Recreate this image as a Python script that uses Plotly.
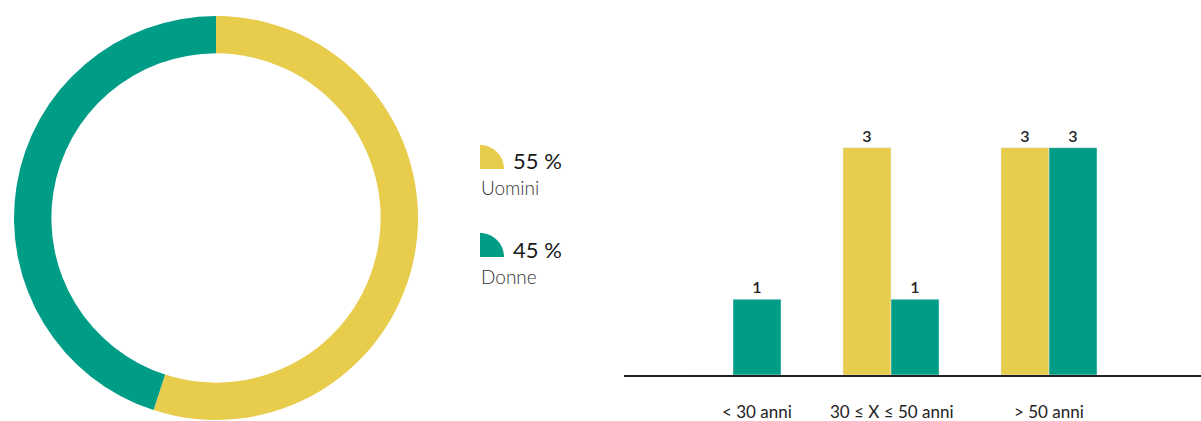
import plotly.graph_objects as go

# --- data ---
gender_labels = ["Uomini", "Donne"]
gender_values = [55, 45]
age_categories = ["< 30 anni", "30 ≤ X ≤ 50 anni", "> 50 anni"]
men_counts = [0, 3, 3]
women_counts = [1, 1, 3]

YELLOW = "#E8CC4C"
TEAL = "#009D86"
W, H = 1201, 421
FONT = "Lato"

fig = go.Figure()

# donut
fig.add_trace(go.Pie(
    labels=gender_labels, values=gender_values, sort=False, direction="clockwise",
    hole=0.815, marker=dict(colors=[YELLOW, TEAL], line=dict(width=0)),
    textinfo="none", hoverinfo="label+percent", showlegend=False,
    domain=dict(x=[14 / W, 418 / W], y=[1 - 420 / H, 1 - 16 / H]),
))

# bars
def lbl(vals):
    return [str(v) if v else "" for v in vals]

fig.add_trace(go.Bar(x=age_categories, y=men_counts, marker_color=YELLOW, name="Uomini",
                     text=lbl(men_counts), textposition="outside", cliponaxis=False,
                     textfont=dict(family=FONT, size=16, color="#222", weight=600),
                     showlegend=False))
fig.add_trace(go.Bar(x=age_categories, y=women_counts, marker_color=TEAL, name="Donne",
                     text=lbl(women_counts), textposition="outside", cliponaxis=False,
                     textfont=dict(family=FONT, size=16, color="#222", weight=600),
                     showlegend=False))

x_lo = (624 - 733) / 158
x_hi = (1201 - 733) / 158
fig.update_layout(
    width=W, height=H, margin=dict(l=0, r=0, t=0, b=0),
    paper_bgcolor="white", plot_bgcolor="white",
    barmode="group", bargap=0.392, bargroupgap=0,
    font=dict(family=FONT, color="#222"),
    xaxis=dict(domain=[624 / W, 1], range=[x_lo, x_hi], showticklabels=False, ticks="",
               showline=True, linecolor="#222", linewidth=1.5, showgrid=False, zeroline=False),
    yaxis=dict(domain=[46 / H, 1 - 34 / H], range=[0, 4.5], visible=False),
)

# category labels (first centred under its single bar)
shifts = [24, 0, 0]
for cat, sh in zip(age_categories, shifts):
    fig.add_annotation(x=cat, xref="x", y=1 - 411 / H, yref="paper", text=cat,
                       showarrow=False, xshift=sh, yanchor="middle", borderpad=0,
                       font=dict(family=FONT, size=17, color="#222"))

# legend: quarter-circle icons + text
def quarter(x0px, y0px, r, color):
    k = 0.5523
    x0, y0 = x0px / W, 1 - y0px / H
    rx, ry = r / W, r / H
    path = (f"M {x0},{y0} L {x0},{y0 + ry} "
            f"C {x0 + k * rx},{y0 + ry} {x0 + rx},{y0 + k * ry} {x0 + rx},{y0} Z")
    fig.add_shape(type="path", path=path, xref="paper", yref="paper",
                  fillcolor=color, line=dict(width=0))

for i, (name, val, col) in enumerate(zip(gender_labels, gender_values, [YELLOW, TEAL])):
    base = 169 + 88 * i
    quarter(480, base, 24, col)
    fig.add_annotation(x=511 / W, y=1 - (base - 8) / H, xref="paper", yref="paper",
                       text=f"{val} %", showarrow=False, xanchor="left", yanchor="middle",
                       font=dict(family=FONT, size=22, color="#1a1a1a"))
    fig.add_annotation(x=479 / W, y=1 - (base + 19) / H, xref="paper", yref="paper",
                       text=name, showarrow=False, xanchor="left", yanchor="middle",
                       font=dict(family=FONT, size=19, color="#333", weight=300))

fig.write_html("out.html", config={"displayModeBar": False},
               post_script="document.body.style.margin='0';document.body.style.overflow='hidden';")
